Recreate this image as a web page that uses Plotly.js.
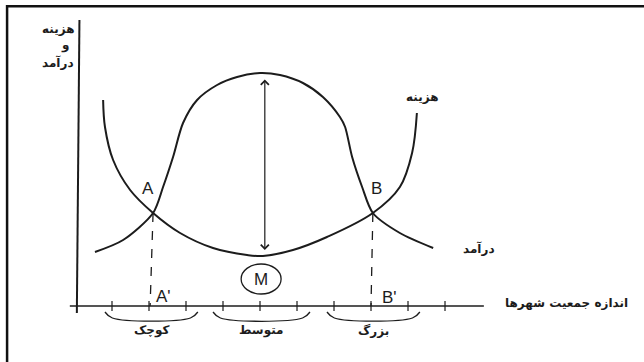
<!DOCTYPE html>
<html>
<head>
<meta charset="utf-8">
<script src="https://cdn.plot.ly/plotly-3.0.1.min.js"></script>
<style>
  body { margin: 0; background: #fff; }
  #chart { width: 644px; height: 362px; }
</style>
</head>
<body>
<div id="chart"></div>
<script>
// cost curve (U shape)
const costX = [0.76, 0.81, 1.03, 1.49, 2.11, 2.84, 3.73, 4.65, 5.08, 5.89, 6.81, 8.05, 8.78, 9.11, 9.24];
const costY = [20.6, 17.9, 14.6, 11.6, 9.3, 7.3, 5.8, 5.1, 5.0, 5.6, 6.9, 9.3, 11.9, 15.3, 19.3];

// income curve (inverted U)
const incomeX = [0.54, 1.30, 2.11, 2.38, 2.65, 2.92, 3.30, 3.84, 4.38, 5.00, 5.54, 6.16, 6.70, 7.16, 7.30, 7.49, 7.76, 8.05, 8.78, 9.68];
const incomeY = [5.4, 6.6, 9.3, 11.9, 14.9, 18.3, 20.6, 22.1, 22.9, 23.3, 23.1, 22.3, 20.9, 18.9, 17.9, 14.9, 11.9, 9.3, 7.3, 5.8];

// crossing points and their feet on the x axis
const crossX = [2.11, 8.05];
const crossY = [9.3, 9.3];
const footX = [2.03, 8.0];
const crossLabels = ['A', 'B'];
const footLabels = ["A'", "B'"];

// city size groups
const groupStart = [0.81, 3.73, 6.81];
const groupEnd = [3.32, 6.35, 9.32];
const groupLabels = ['کوچک', 'متوسط', 'بزرگ'];

const tickVals = [1, 2, 3, 4, 5, 6, 7, 8, 9, 10];

const ink = '#1c1c1c';
const fa = 'DejaVu Sans';

let traces = [];

// axes
traces.push({x: [0.05, 0.12], y: [-0.7, 28.6], mode: 'lines', line: {color: ink, width: 2}, hoverinfo: 'skip'});
traces.push({x: [-0.14, 11.05], y: [0, 0], mode: 'lines', line: {color: ink, width: 1.5}, hoverinfo: 'skip'});
traces.push({x: tickVals, y: tickVals.map(() => 0), mode: 'markers',
  marker: {symbol: 'line-ns', size: 7, line: {color: ink, width: 1.2}}, hoverinfo: 'skip'});

// curves
traces.push({x: costX, y: costY, mode: 'lines', line: {color: ink, width: 2, shape: 'spline', smoothing: 1}, hoverinfo: 'skip'});
traces.push({x: incomeX, y: incomeY, mode: 'lines', line: {color: ink, width: 2, shape: 'spline', smoothing: 0.8}, hoverinfo: 'skip'});

// dashed drops from A and B
for (let i = 0; i < crossX.length; i++) {
  traces.push({x: [crossX[i], footX[i]], y: [crossY[i], 0], mode: 'lines',
    line: {color: ink, width: 1.3, dash: 'dash'}, hoverinfo: 'skip'});
}

// braces under the axis
for (let i = 0; i < groupStart.length; i++) {
  let a = groupStart[i], b = groupEnd[i];
  traces.push({x: [a, a + 0.2, b - 0.2, b], y: [-0.6, -1.2, -1.2, -0.6], mode: 'lines',
    line: {color: ink, width: 1.3, shape: 'spline'}, hoverinfo: 'skip'});
}

let annotations = [];

// double arrow between the curves
annotations.push({x: 5.13, y: 5.6, ax: 5.13, ay: 22.8, axref: 'x', ayref: 'y', xref: 'x', yref: 'y',
  text: '', showarrow: true, arrowside: 'end+start', arrowhead: 4, arrowsize: 1.3, arrowwidth: 1.2, arrowcolor: ink});

const latin = {family: 'Liberation Sans', size: 17, color: ink};
annotations.push({x: 1.97, y: 11.8, text: crossLabels[0], showarrow: false, font: latin});
annotations.push({x: 8.16, y: 11.8, text: crossLabels[1], showarrow: false, font: latin});
annotations.push({x: 2.4, y: 1.0, text: footLabels[0], showarrow: false, font: latin});
annotations.push({x: 8.49, y: 0.9, text: footLabels[1], showarrow: false, font: latin});
annotations.push({x: 5.03, y: 2.7, text: 'M', showarrow: false, font: latin});

const faFont = {family: fa, size: 12, color: ink, weight: 'bold'};
for (let i = 0; i < groupLabels.length; i++) {
  annotations.push({x: (groupStart[i] + groupEnd[i]) / 2, y: -2.4, text: groupLabels[i], showarrow: false, font: faFont});
}
annotations.push({x: 9.38, y: 20.9, text: 'هزینه', showarrow: false, font: faFont});
annotations.push({x: 10.92, y: 5.8, text: 'درآمد', showarrow: false, font: faFont});
annotations.push({x: 13.27, y: 0.35, text: 'اندازه جمعیت شهرها', showarrow: false, font: faFont});
annotations.push({x: 0.03, y: 27.7, text: 'هزینه', showarrow: false, xanchor: 'right', font: faFont});
annotations.push({x: -0.1, y: 26.1, text: 'و', showarrow: false, xanchor: 'right', font: faFont});
annotations.push({x: 0.03, y: 24.4, text: 'درآمد', showarrow: false, xanchor: 'right', font: faFont});

const layout = {
  width: 644,
  height: 362,
  margin: {l: 0, r: 0, t: 0, b: 0},
  paper_bgcolor: '#fff',
  plot_bgcolor: '#fff',
  showlegend: false,
  xaxis: {range: [-2.027, 15.378], visible: false, fixedrange: true},
  yaxis: {range: [-5.6, 30.6], visible: false, fixedrange: true},
  annotations: annotations,
  shapes: [
    // frame, only left and top edges are inside the picture
    {type: 'rect', xref: 'paper', yref: 'paper', x0: 0.011, x1: 1.05, y0: -0.05, y1: 0.983,
      line: {color: '#111', width: 2.5}},
    // circle round M
    {type: 'circle', xref: 'x', yref: 'y', x0: 4.49, x1: 5.57, y0: 1.2, y1: 4.2,
      line: {color: ink, width: 1.3}}
  ]
};

Plotly.newPlot('chart', traces, layout, {staticPlot: true, displayModeBar: false});
</script>
</body>
</html>
